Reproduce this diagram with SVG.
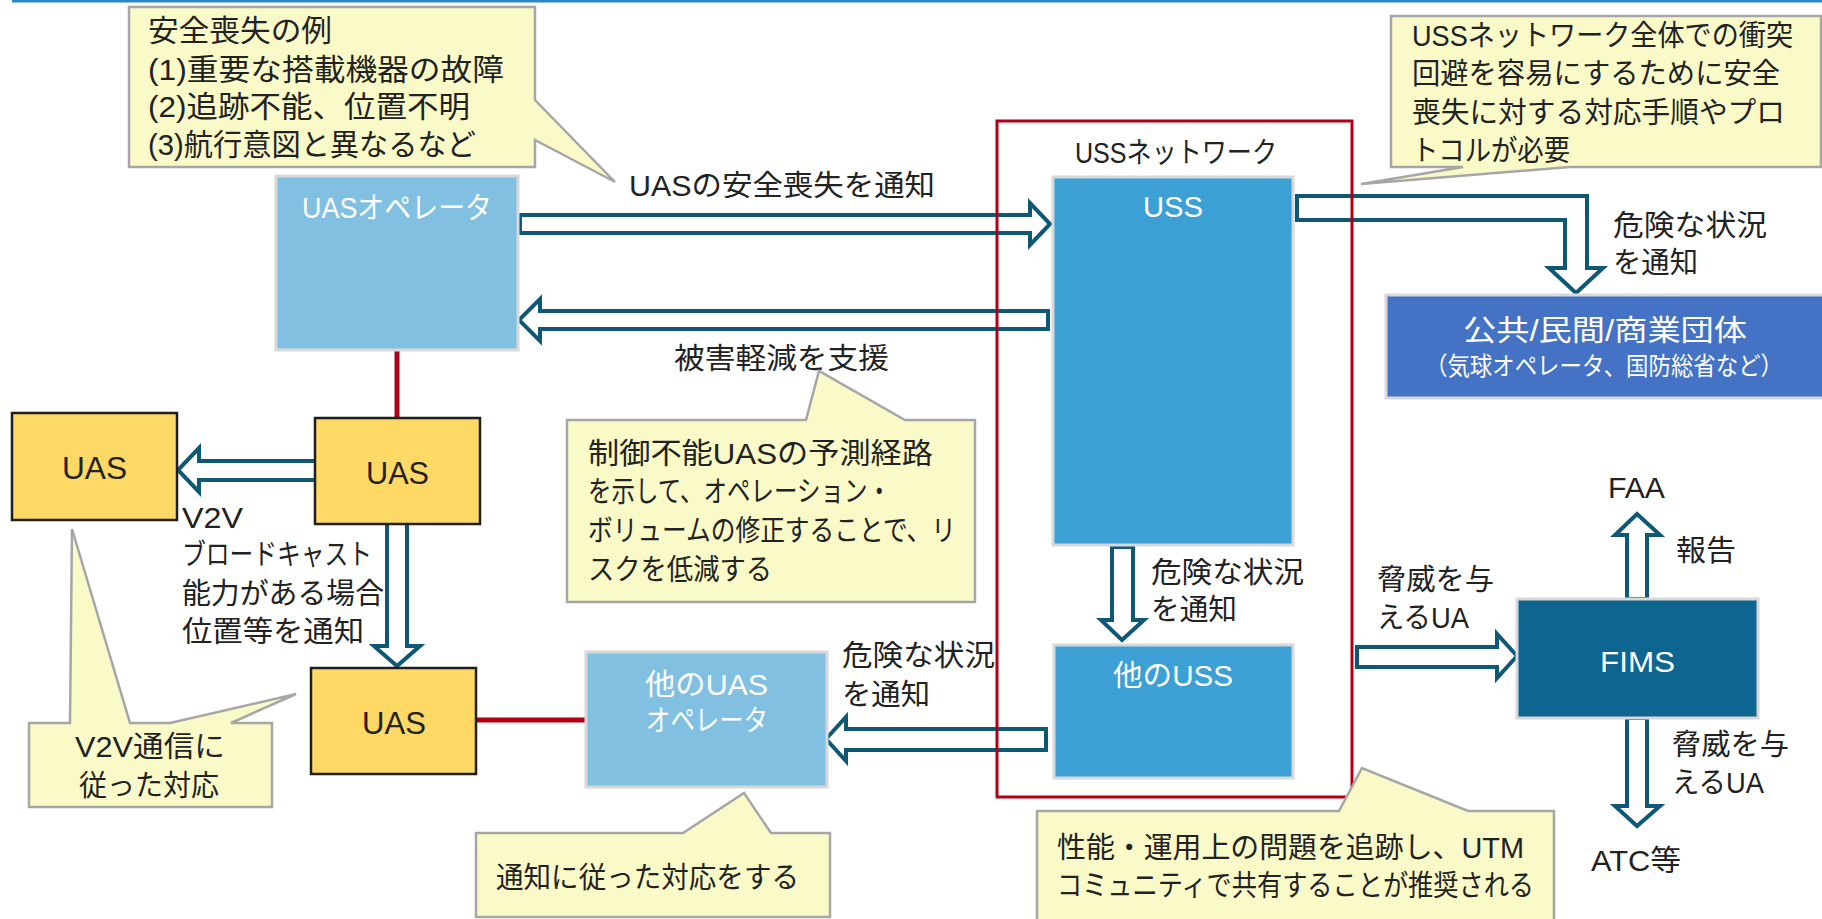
<svg xmlns="http://www.w3.org/2000/svg" width="1822" height="919" viewBox="0 0 1822 919">
<style>
text{font-family:"Liberation Sans","Noto Sans CJK JP",sans-serif;font-size:29px;fill:#222222}
.w{fill:#ffffff}
.s25{font-size:25px}
.s30{font-size:30px}
.s32{font-size:32px}
.callout{fill:#fafac8;stroke:#a6a6a6;stroke-width:2.5;stroke-linejoin:miter}
.arrow{fill:#ffffff;stroke:#0e5876;stroke-width:4;stroke-linejoin:miter}
.red{stroke:#b00016;stroke-width:5;fill:none}
.lb{fill:#82c0e2;stroke:#d8d8d8;stroke-width:3}
.db{fill:#3ca0d5;stroke:#d8d8d8;stroke-width:3}
.uas{fill:#ffd966;stroke:#1e1e1e;stroke-width:2.5}
</style>
<rect x="12" y="0" width="1810" height="2.5" fill="#2a86c6"/>

<g id="connectors">
  <line class="red" x1="397" y1="350" x2="397" y2="418"/>
  <line class="red" x1="476" y1="720" x2="586" y2="720"/>
  <polygon class="arrow" points="520,215 1030,215 1030,203 1050,224 1030,245 1030,233 520,233"/>
  <polygon class="arrow" points="1048,311 540,311 540,299 519,320 540,341 540,329 1048,329"/>
  <polygon class="arrow" points="1297,196 1587,196 1587,268 1603,268 1576,293 1549,268 1565,268 1565,220 1297,220"/>
  <polygon class="arrow" points="316,461 199,461 199,448 178,470 199,492 199,480 316,480"/>
  <polygon class="arrow" points="387,523 407,523 407,646 420,646 397,666 374,646 387,646"/>
  <polygon class="arrow" points="1112,547 1133,547 1133,620 1144,620 1122,640 1101,620 1112,620"/>
  <polygon class="arrow" points="1046,729 846,729 846,717 826,739 846,761 846,750 1046,750"/>
  <polygon class="arrow" points="1357,647 1497,647 1497,634 1517,656 1497,678 1497,667 1357,667"/>
  <polygon class="arrow" points="1627,599 1627,535 1615,535 1637,514 1660,535 1647,535 1647,599"/>
  <polygon class="arrow" points="1627,718 1627,806 1615,806 1637,826 1660,806 1647,806 1647,718"/>
  <text x="629" y="196" textLength="306" lengthAdjust="spacingAndGlyphs">UASの安全喪失を通知</text>
  <text x="674" y="369" textLength="215" lengthAdjust="spacingAndGlyphs">被害軽減を支援</text>
  <text><tspan x="1613" y="236" textLength="154" lengthAdjust="spacingAndGlyphs">危険な状況</tspan><tspan x="1613" y="273" textLength="85" lengthAdjust="spacingAndGlyphs">を通知</tspan></text>
  <text><tspan x="182" y="528" textLength="61" lengthAdjust="spacingAndGlyphs">V2V</tspan><tspan x="182" y="565" textLength="190" lengthAdjust="spacingAndGlyphs">ブロードキャスト</tspan><tspan x="182" y="604" textLength="202" lengthAdjust="spacingAndGlyphs">能力がある場合</tspan><tspan x="182" y="642" textLength="182" lengthAdjust="spacingAndGlyphs">位置等を通知</tspan></text>
  <text><tspan x="842" y="666" textLength="153" lengthAdjust="spacingAndGlyphs">危険な状況</tspan><tspan x="842" y="705" textLength="88" lengthAdjust="spacingAndGlyphs">を通知</tspan></text>
  <text><tspan x="1151" y="583" textLength="153" lengthAdjust="spacingAndGlyphs">危険な状況</tspan><tspan x="1151" y="620" textLength="86" lengthAdjust="spacingAndGlyphs">を通知</tspan></text>
  <text><tspan x="1377" y="590" textLength="117" lengthAdjust="spacingAndGlyphs">脅威を与</tspan><tspan x="1377" y="628" textLength="92" lengthAdjust="spacingAndGlyphs">えるUA</tspan></text>
  <text x="1676" y="561" textLength="60" lengthAdjust="spacingAndGlyphs">報告</text>
  <text><tspan x="1672" y="755" textLength="117" lengthAdjust="spacingAndGlyphs">脅威を与</tspan><tspan x="1672" y="793" textLength="92" lengthAdjust="spacingAndGlyphs">えるUA</tspan></text>
</g>

<g id="uss-network">
  <rect x="997" y="121" width="355" height="676" fill="none" stroke="#b00016" stroke-width="3"/>
  <text x="1075" y="163" textLength="202" lengthAdjust="spacingAndGlyphs">USSネットワーク</text>
</g>

<g id="callout-loss">
  <path class="callout" d="M129,7 H535 V100 L615,182 L535,140 V167 H129 Z"/>
  <text class="s30"><tspan x="148" y="41" textLength="184" lengthAdjust="spacingAndGlyphs">安全喪失の例</tspan><tspan x="148" y="80" textLength="356" lengthAdjust="spacingAndGlyphs">(1)重要な搭載機器の故障</tspan><tspan x="148" y="117" textLength="322" lengthAdjust="spacingAndGlyphs">(2)追跡不能、位置不明</tspan><tspan x="148" y="155" textLength="328" lengthAdjust="spacingAndGlyphs">(3)航行意図と異なるなど</tspan></text>
</g>

<g id="uas-operator">
  <rect class="lb" x="276" y="176" width="242" height="174"/>
  <text class="w s30" x="302" y="218" textLength="190" lengthAdjust="spacingAndGlyphs">UASオペレータ</text>
</g>

<g id="uss">
  <rect class="db" x="1053" y="177" width="240" height="368"/>
  <text class="w" x="1143" y="217" textLength="60" lengthAdjust="spacingAndGlyphs">USS</text>
</g>

<g id="callout-protocol">
  <path class="callout" d="M1391,16 H1821 V167 H1570 L1361,184 L1463,167 H1391 Z"/>
  <text><tspan x="1412" y="46" textLength="381" lengthAdjust="spacingAndGlyphs">USSネットワーク全体での衝突</tspan><tspan x="1412" y="84" textLength="368" lengthAdjust="spacingAndGlyphs">回避を容易にするために安全</tspan><tspan x="1412" y="123" textLength="373" lengthAdjust="spacingAndGlyphs">喪失に対する対応手順やプロ</tspan><tspan x="1412" y="161" textLength="158" lengthAdjust="spacingAndGlyphs">トコルが必要</tspan></text>
</g>

<g id="public-entities">
  <rect x="1386" y="295" width="440" height="103" fill="#4472c4" stroke="#d8d8d8" stroke-width="3"/>
  <text class="w" x="1463" y="341" textLength="284" lengthAdjust="spacingAndGlyphs">公共/民間/商業団体</text>
  <text class="w s25" x="1425" y="375" textLength="358" lengthAdjust="spacingAndGlyphs">（気球オペレータ、国防総省など）</text>
</g>

<g id="callout-mitigation">
  <path class="callout" d="M567,420 H806 L819,371 L905,420 H975 V602 H567 Z"/>
  <text><tspan x="588" y="464" textLength="345" lengthAdjust="spacingAndGlyphs">制御不能UASの予測経路</tspan><tspan x="588" y="502" textLength="303" lengthAdjust="spacingAndGlyphs">を示して、オペレーション・</tspan><tspan x="588" y="541" textLength="368" lengthAdjust="spacingAndGlyphs">ボリュームの修正することで、リ</tspan><tspan x="588" y="580" textLength="184" lengthAdjust="spacingAndGlyphs">スクを低減する</tspan></text>
</g>

<g id="uas-left">
  <rect class="uas" x="12" y="413" width="165" height="107"/>
  <text class="s32" x="62" y="479" textLength="65" lengthAdjust="spacingAndGlyphs">UAS</text>
</g>

<g id="uas-middle">
  <rect class="uas" x="315" y="418" width="165" height="106"/>
  <text class="s32" x="366" y="484" textLength="63" lengthAdjust="spacingAndGlyphs">UAS</text>
</g>

<g id="uas-bottom">
  <rect class="uas" x="311" y="668" width="165" height="106"/>
  <text class="s32" x="362" y="734" textLength="64" lengthAdjust="spacingAndGlyphs">UAS</text>
</g>

<g id="callout-v2v">
  <path class="callout" d="M29,723 H70 L72,529 L130,723 H170 L296,694 L231,723 H272 V807 H29 Z"/>
  <text><tspan x="75" y="757" textLength="150" lengthAdjust="spacingAndGlyphs">V2V通信に</tspan><tspan x="79" y="796" textLength="140" lengthAdjust="spacingAndGlyphs">従った対応</tspan></text>
</g>

<g id="other-uas-operator">
  <rect class="lb" x="586" y="652" width="241" height="135"/>
  <text class="w"><tspan x="645" y="695" textLength="123" lengthAdjust="spacingAndGlyphs">他のUAS</tspan><tspan x="646" y="731" textLength="122" lengthAdjust="spacingAndGlyphs">オペレータ</tspan></text>
</g>

<g id="other-uss">
  <rect class="db" x="1054" y="645" width="239" height="133"/>
  <text class="w" x="1113" y="686" textLength="120" lengthAdjust="spacingAndGlyphs">他のUSS</text>
</g>

<g id="callout-notify">
  <path class="callout" d="M476,833 H683 L744,793 L771,833 H830 V917 H476 Z"/>
  <text x="496" y="888" textLength="303" lengthAdjust="spacingAndGlyphs">通知に従った対応をする</text>
</g>

<g id="callout-tracking">
  <path class="callout" d="M1037,811 H1339 L1362,768 L1468,811 H1554 V930 H1037 Z"/>
  <text><tspan x="1057" y="858" textLength="467" lengthAdjust="spacingAndGlyphs">性能・運用上の問題を追跡し、UTM</tspan><tspan x="1057" y="896" textLength="477" lengthAdjust="spacingAndGlyphs">コミュニティで共有することが推奨される</tspan></text>
</g>

<g id="fims">
  <rect x="1517" y="599" width="241" height="119" fill="#0e6590" stroke="#d8d8d8" stroke-width="3"/>
  <text class="w s30" x="1600" y="672" textLength="75" lengthAdjust="spacingAndGlyphs">FIMS</text>
</g>

<g id="faa">
  <text x="1608" y="498" textLength="57" lengthAdjust="spacingAndGlyphs">FAA</text>
</g>

<g id="atc">
  <text x="1591" y="871" textLength="90" lengthAdjust="spacingAndGlyphs">ATC等</text>
</g>
</svg>
